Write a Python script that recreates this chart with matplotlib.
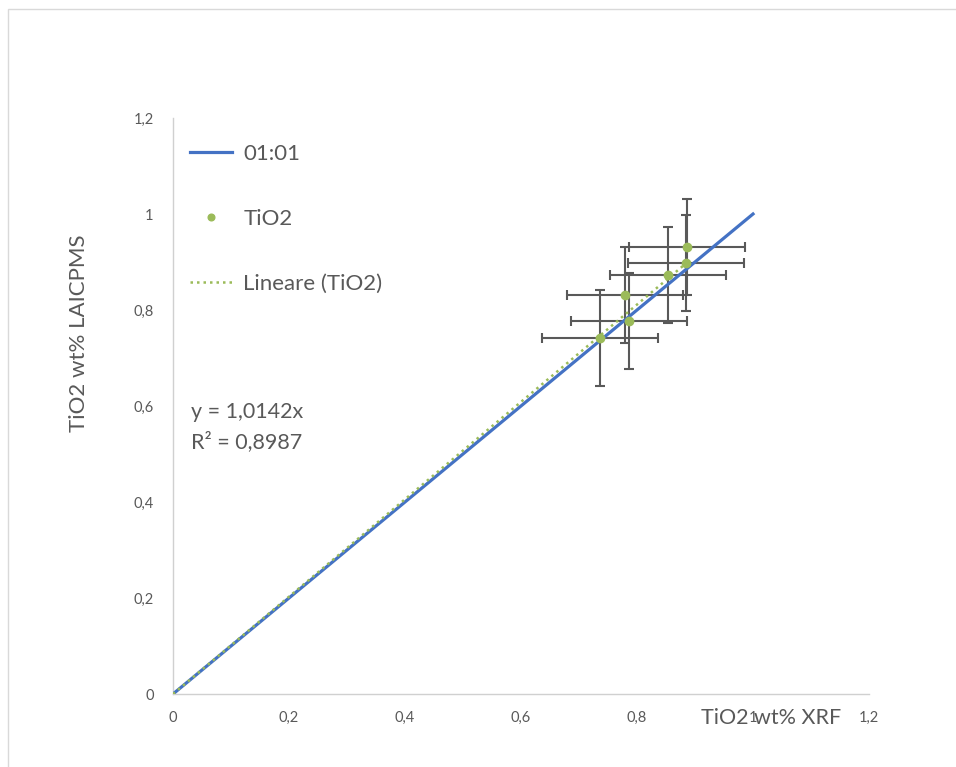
import matplotlib
matplotlib.use("Agg")
import numpy as np
from matplotlib import pyplot as plt
from matplotlib.patches import Rectangle

# dati TiO2 (wt%)
tio2_xrf = [0.887, 0.885, 0.853, 0.780, 0.787, 0.737]
tio2_laicpms = [0.931, 0.897, 0.872, 0.832, 0.777, 0.742]
err_x = [0.1, 0.1, 0.1, 0.1, 0.1, 0.1]
err_y = [0.1, 0.1, 0.1, 0.1, 0.1, 0.1]
slope = 1.0142
r2 = 0.8987
ticks = [0, 0.2, 0.4, 0.6, 0.8, 1.0, 1.2]
tick_labels = ["0", "0,2", "0,4", "0,6", "0,8", "1", "1,2"]

plt.rcParams['font.family'] = ['Lato', 'DejaVu Sans']
grey = "#595959"
blue = "#4472C4"
green = "#9BBB59"

W, H = 956, 767
fig = plt.figure(figsize=(W/100, H/100), dpi=100)
ax = fig.add_axes([173/W, 1 - 694/H, (869-173)/W, (694-118)/H])

# cornice del grafico
fig.patches.append(Rectangle((8/W, -0.1), 2, 1 - 9/H + 0.1, transform=fig.transFigure,
                             fill=False, edgecolor="#D9D9D9", lw=1))

ax.errorbar(tio2_xrf, tio2_laicpms, xerr=err_x, yerr=err_y, fmt='none',
            ecolor=grey, elinewidth=1.5, capsize=3.5, capthick=1.5, zorder=2)
ax.plot([0, 1], [0, 1], color=blue, lw=2.3, label="01:01", zorder=3)
ax.plot(tio2_xrf, tio2_laicpms, 'o', color=green, ms=6, label="TiO2", zorder=4)
xx = np.array([0, max(tio2_xrf)])
ax.plot(xx, slope*xx, color=green, lw=1.8, linestyle=(0, (1, 1.6)),
        label="Lineare (TiO2)", zorder=5)

ax.set_xlim(0, 1.2)
ax.set_ylim(0, 1.2)
ax.set_xticks(ticks)
ax.set_xticklabels(tick_labels)
ax.set_yticks(ticks)
ax.set_yticklabels(tick_labels)
ax.tick_params(length=0, labelsize=10.5, colors=grey, pad=12)
ax.tick_params(axis='y', pad=14)
for s in ["top", "right"]:
    ax.spines[s].set_visible(False)
for s in ["left", "bottom"]:
    ax.spines[s].set_color("#D0D0D0")
    ax.spines[s].set_linewidth(1)

fig.text(771/W, 1 - 718/H, "TiO2 wt% XRF", ha="center", va="center",
         fontsize=15.5, color=grey)
fig.text(79/W, 1 - 333/H, "TiO2 wt% LAICPMS", ha="center", va="center",
         rotation=90, fontsize=16, color=grey)

ax.text(191/W, 1 - 412/H, "y = " + f"{slope:.4f}".replace(".", ",") + "x",
        transform=fig.transFigure, ha="left", va="center", fontsize=15.5, color=grey)
ax.text(191/W, 1 - 442/H, "R² = " + f"{r2:.4f}".replace(".", ","),
        transform=fig.transFigure, ha="left", va="center", fontsize=15.5, color=grey)

leg = ax.legend(loc="upper left", bbox_to_anchor=(190/W, 1 - 144/H),
                bbox_transform=fig.transFigure, frameon=False, fontsize=16,
                labelspacing=2.02, handlelength=1.9, handletextpad=0.5,
                borderpad=0, borderaxespad=0, markerscale=0.8)
for t in leg.get_texts():
    t.set_color(grey)

fig.savefig("out.png", dpi=100)
